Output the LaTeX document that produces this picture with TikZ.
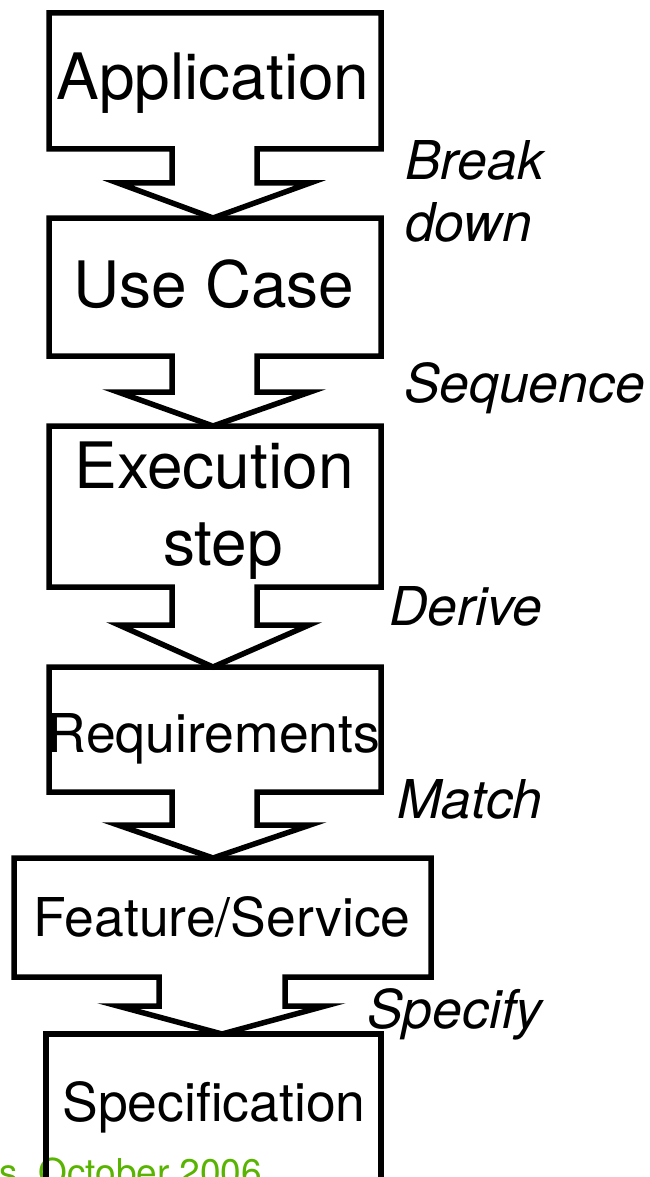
\documentclass[tikz,border=0pt]{standalone}
\usepackage{fontspec}
\setmainfont{TeX Gyre Heros}
\definecolor{dategreen}{RGB}{88,180,0}
\begin{document}
\begin{tikzpicture}[x=1pt,y=-1pt,
  flow/.style={draw=black,line width=5.5pt,line join=miter},
  big/.style={font=\fontsize{64}{76}\selectfont,inner sep=0pt},
  mid/.style={font=\fontsize{53.5}{64}\selectfont,inner sep=0pt},
  verb/.style={font=\fontsize{53.5}{64}\selectfont\itshape,inner sep=0pt,anchor=base west},
  datetext/.style={font=\fontsize{37}{44}\selectfont,text=dategreen,inner sep=0pt,anchor=base west}]
\clip (0,0) rectangle (650,1177);
% date footer
\node[datetext] (date) at (-1,1185) {s, October 2006};
% box + arrow outlines
% Application
\draw[flow] (172,149) -- (49,149) -- (49,13) -- (381,13) -- (381,149) -- (257,149)
  -- (257,183) -- (310,183) -- (213,218) -- (118,183) -- (172,183) -- cycle;
% Use Case
\draw[flow] (172,356) -- (49,356) -- (49,218) -- (381,218) -- (381,356) -- (257,356)
  -- (257,392) -- (310,392) -- (213,426) -- (118,392) -- (172,392) -- cycle;
% Execution step
\draw[flow] (172,587) -- (49,587) -- (49,426) -- (381,426) -- (381,587) -- (257,587)
  -- (257,625) -- (309,625) -- (213,667) -- (119,625) -- (172,625) -- cycle;
% Requirements
\draw[flow] (172,792) -- (49,792) -- (49,667) -- (381,667) -- (381,792) -- (257,792)
  -- (257,825) -- (310,825) -- (213,858) -- (118,825) -- (172,825) -- cycle;
% Feature/Service
\draw[flow] (159,977) -- (14,977) -- (14,858) -- (431,858) -- (431,977) -- (285,977)
  -- (285,1006) -- (325,1006) -- (222,1034) -- (118,1006) -- (159,1006) -- cycle;
% Specification
\draw[flow] (46,1200) -- (46,1034) -- (381,1034) -- (381,1200);
% box texts
\node[big,anchor=base] (app) at (213,100) {Application};
\node[big,anchor=base] (uc) at (214,307) {Use Case};
\node[big,anchor=base] (exe) at (214,488) {Execution};
\node[big,anchor=base] (stp) at (223,565) {step};
\node[mid,anchor=base] (req) at (214,752) {Requirements};
\node[mid,anchor=base] (feat) at (222,936) {Feature/Service};
\node[mid,anchor=base] (spec) at (214,1121) {Specification};
% verbs
\node[verb] (brk) at (405,180) {Break};
\node[verb] (dwn) at (405,241) {down};
\node[verb] (seq) at (404,402) {Sequence};
\node[verb] (der) at (389,625) {Derive};
\node[verb] (mat) at (397,818) {Match};
\node[verb] (spf) at (367,1028) {Specify};
\end{tikzpicture}
\end{document}
